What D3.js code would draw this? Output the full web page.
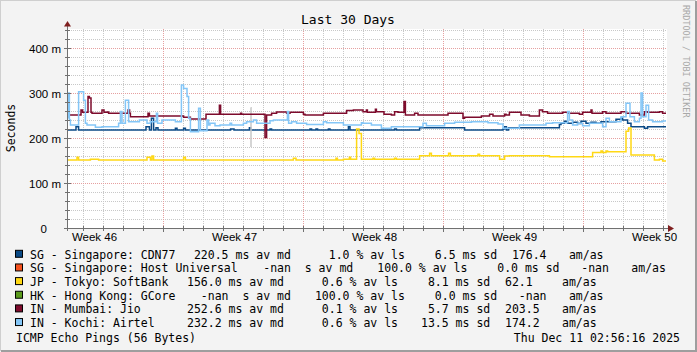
<!DOCTYPE html>
<meta charset="utf-8">
<style>
  body { margin: 0; background: #f3f3f3; }
  svg { display: block; font-family: "DejaVu Sans Mono", monospace; }
  .minor { stroke: #c8c8c8; stroke-dasharray: 1,1; }
  .major { stroke: #e6a0a0; stroke-dasharray: 1,1; }
  .series { fill: none; stroke-width: 1.5px; }
  .txt { font-size: 11.5px; white-space: pre; fill: #000; }
</style>
<svg width="697" height="352"></svg>
<script src="https://d3js.org/d3.v7.min.js"></script>
<script>
  // ---- data (t = days since left edge, v = ms) ----
  var targets = ["SG - Singapore: CDN77", "SG - Singapore: Host Universal", "JP - Tokyo: SoftBank",
    "HK - Hong Kong: GCore", "IN - Mumbai: Jio", "IN - Kochi: Airtel"];
  var colors = ["#0b4a86", "#f4511e", "#ffd814", "#5a9a1c", "#7d0b2c", "#84c6f7"];

  var avMedian = [220.5, NaN, 156.0, NaN, 252.6, 232.2];
  var avLoss = [1.0, 100.0, 0.6, 100.0, 0.1, 0.6];
  var stdDev = [6.5, 0.0, 8.1, 0.0, 5.7, 13.5];
  var amAs = [176.4, NaN, 62.1, NaN, 203.5, 174.2];

  var weekTicks = [1.35, 8.35, 15.35, 22.35, 29.35];
  var weekLabels = ["Week 46", "Week 47", "Week 48", "Week 49", "Week 50"];
  var yTicks = [0, 100, 200, 300, 400];

  var cdn77 = [[0,218],[0.45,225],[0.58,218],[3.95,225],[4.12,218],[4.22,244],[4.33,218],[4.45,223],[4.55,218],
    [5.42,221.5],[5.5,218],[5.83,221.5],[5.92,218],[8.18,220],[8.35,218],[9.12,223],[9.18,218],[10.15,220],
    [10.23,218],[12.15,220],[12.23,218],[12.45,220],[12.53,218],[13.07,220],[13.15,218],[14.07,225],[14.15,218],
    [16.38,220],[16.47,218],[17.63,223],[19.88,218],[21.8,220],[21.88,225],[21.97,218],[22.08,223],[24.62,230],
    [24.7,233],[24.87,237],[25.03,233],[25.28,235],[25.53,232],[25.7,237],[25.95,233],[26.2,235],[26.45,233],
    [26.7,236],[27.45,241.5],[27.7,244],[27.78,240],[28.03,233],[28.2,225],[28.87,221.5],[29.03,225],[29.95,225]];

  var hostUniversal = [[9.18,267],[9.2,180]];

  var softbank = [[0,151],[0.5,157],[0.58,151],[1.17,153],[1.58,151],[4.0,157],[4.17,151],[4.25,160],[4.33,151],
    [5.83,157],[5.92,151],[11.32,155],[11.45,151],[13.45,155],[13.52,151],[13.82,153],[14.12,157],[14.18,153],
    [14.48,220],[14.6,210],[14.72,153],[15.3,155],[15.38,152.6],[16.38,155],[16.47,152.6],[17.63,160.7],
    [18.13,166],[18.22,160.7],[19.08,166],[19.17,160.7],[20.55,163.7],[20.63,160.7],[21.63,152.6],[21.88,160],
    [22.12,160.7],[24.12,158.5],[26.28,168],[26.7,171],[26.78,168],[26.95,171],[27.03,169.6],[27.95,215],
    [28.08,222],[28.2,162.2],[29.37,151.1],[29.62,152.6],[29.78,148.9],[29.95,148.9]];

  var jio = [[0,251],[0.7,262],[0.78,257],[1.05,292],[1.12,289],[1.2,257],[1.25,255],[1.75,262],[1.85,257],
    [2.0,258],[2.08,255],[3.05,262],[3.13,255],[3.17,247],[4.05,255],[4.12,249],[5.83,246],[6.17,242],[6.95,253],
    [7.62,273],[7.68,253],[8.68,255],[8.73,253],[9.9,201],[9.98,251],[10.23,255],[10.48,258],[10.98,255],
    [11.15,257],[11.82,253],[11.9,251],[12.82,255],[13.98,261],[14.32,262],[14.8,258.5],[14.97,262],[15.02,257],
    [15.42,264],[15.47,258.5],[15.85,253],[16.22,251],[16.38,258.5],[16.55,257],[16.85,281],[16.92,251],
    [17.38,255],[17.55,251],[19.05,255],[19.8,244],[19.88,246],[20.72,249],[21.13,253],[21.3,249],[21.88,253],
    [21.95,251],[22.12,257],[22.7,251],[23.12,249],[23.62,262],[23.78,258.5],[24.03,255],[24.78,257],[25.03,255],
    [25.62,253],[25.78,257],[26.2,262],[26.25,255],[26.78,258.5],[26.95,255],[27.7,258.5],[27.95,255],
    [28.62,251],[28.87,258.5],[29.03,257],[29.62,258.5],[29.78,255],[29.95,255]];

  var airtel = [[0,245],[0.05,300],[0.12,240],[0.17,229],[0.58,303],[0.83,284],[0.92,233],[1.0,229],[1.42,224],
    [1.75,225],[2.58,233],[2.67,259],[2.75,233],[2.92,284],[3.08,236],[3.62,240],[4.0,233],[4.17,236],[4.47,255],
    [4.53,233],[4.75,240],[5.42,236],[5.72,318],[5.83,310],[6.0,292],[6.08,244],[6.17,214],[6.58,266],[6.67,216],
    [7.0,240],[7.08,229],[7.15,233],[7.4,227],[7.65,229],[8.15,233],[8.23,229],[8.82,233],[8.98,236],[9.32,240],
    [9.48,233],[10.15,238.5],[10.32,240],[11.02,259],[11.08,233],[11.23,236],[11.48,233],[11.98,230],[12.82,236],
    [12.98,234],[13.82,229],[14.72,234],[14.8,232.6],[15.22,229],[15.72,221.5],[16.22,225],[17.8,233],[17.97,227],
    [18.88,233],[19.38,234.8],[20.22,236],[21.05,234],[21.55,231],[21.8,221.5],[22.62,229],[23.95,232.6],
    [24.28,234],[25.03,259],[25.12,240],[25.28,229],[25.53,233],[25.78,227],[26.12,233],[26.78,225],[26.95,244],
    [27.12,236],[27.7,247],[27.95,277],[28.15,247],[28.37,236],[28.62,244],[28.7,300],[28.78,247],[28.95,273],
    [29.08,240],[29.28,236],[29.78,238],[29.95,238]];

  var seriesData = [cdn77, hostUniversal, softbank, [], jio, airtel];

  // ---- chart ----
  var svg = d3.select("svg"),
    width = +svg.attr("width"),
    height = +svg.attr("height");

  var x = d3.scaleLinear().domain([0, 30]).range([67, 667]);
  var y = d3.scaleLinear().domain([0, 440]).range([228, 30]);

  // frame
  svg.append("rect").attr("width", width).attr("height", height).attr("fill", "#f3f3f3");
  svg.append("path").attr("d", "M0,351V0H696").attr("fill", "none").attr("stroke", "#cfcfcf").attr("stroke-width", 2);
  svg.append("path").attr("d", "M1,351H696V1").attr("fill", "none").attr("stroke", "#9e9e9e").attr("stroke-width", 2);

  svg.append("rect").attr("x", 67).attr("y", 29).attr("width", 600).attr("height", 199).attr("fill", "#fff");

  // grid
  var minorY = d3.range(20, 441, 20).filter(function(d) { return d % 100; });
  var majorY = yTicks.filter(function(d) { return d > 0; });
  var dayLines = d3.range(0.8, 30, 1);
  var grid = svg.append("g");

  grid.selectAll(".gy").data(minorY).enter().append("line")
    .attr("class", "minor")
    .attr("x1", 67).attr("x2", 667)
    .attr("y1", function(d) { return Math.round(y(d)) + 0.5; })
    .attr("y2", function(d) { return Math.round(y(d)) + 0.5; });

  grid.selectAll(".gx").data(dayLines).enter().append("line")
    .attr("class", function(d, i) { return (i - 4) % 7 === 0 ? "major" : "minor"; })
    .attr("x1", function(d) { return Math.round(x(d)) + 0.5; })
    .attr("x2", function(d) { return Math.round(x(d)) + 0.5; })
    .attr("y1", 29).attr("y2", 228);

  grid.selectAll(".my").data(majorY).enter().append("line")
    .attr("class", "major")
    .attr("x1", 67).attr("x2", 667)
    .attr("y1", function(d) { return Math.round(y(d)) + 0.5; })
    .attr("y2", function(d) { return Math.round(y(d)) + 0.5; });

  // series
  var line = d3.line()
    .x(function(d) { return x(d[0]); })
    .y(function(d) { return y(d[1]); })
    .curve(d3.curveStepAfter);

  seriesData.forEach(function(s, i) {
    if (!s.length) return;
    svg.append("path")
      .datum(s)
      .attr("class", "series")
      .attr("stroke", i === 1 ? "#c8c8c8" : colors[i])
      .attr("d", line);
  });

  // axes
  var axisColor = "#707070";
  svg.append("line").attr("x1", 64).attr("x2", 668).attr("y1", 228.5).attr("y2", 228.5).attr("stroke", axisColor);
  svg.append("line").attr("x1", 67.5).attr("x2", 67.5).attr("y1", 231).attr("y2", 25).attr("stroke", axisColor);

  // small ticks on axes
  svg.selectAll(".ty").data(d3.range(0, 441, 20)).enter().append("line")
    .attr("x1", function(d) { return d % 100 ? 65 : 64; })
    .attr("x2", function(d) { return d % 100 ? 70 : 71; })
    .attr("y1", function(d) { return Math.round(y(d)) + 0.5; })
    .attr("y2", function(d) { return Math.round(y(d)) + 0.5; })
    .attr("stroke", axisColor);
  svg.selectAll(".tx").data(dayLines).enter().append("line")
    .attr("x1", function(d) { return Math.round(x(d)) + 0.5; })
    .attr("x2", function(d) { return Math.round(x(d)) + 0.5; })
    .attr("y1", 226)
    .attr("y2", function(d, i) { return (i - 4) % 7 === 0 ? 232 : 231; })
    .attr("stroke", axisColor);

  var arrow = "#7f1f1f";
  svg.append("path").attr("d", "M67.5,21L64,26.5H71Z").attr("fill", arrow);
  svg.append("path").attr("d", "M674,228.5L668,225V232Z").attr("fill", arrow);

  var yAxis = svg.append("g")
    .attr("transform", "translate(67,0)")
    .call(d3.axisLeft(y).tickValues(yTicks).tickSize(0).tickPadding(6)
      .tickFormat(function(d) { return d === 0 ? "0" : d + " m"; }));
  yAxis.select(".domain").remove();
  yAxis.selectAll("text").attr("class", "txt").attr("font-family", null).attr("font-size", null)
    .attr("dy", "0.36em")
    .attr("dx", function(d) { return d === 0 ? -14 : 0; });

  var xAxis = svg.append("g")
    .attr("transform", "translate(0,228)")
    .call(d3.axisBottom(x).tickValues(weekTicks).tickSize(0).tickPadding(5)
      .tickFormat(function(d, i) { return weekLabels[i]; }));
  xAxis.select(".domain").remove();
  xAxis.selectAll("text").attr("class", "txt").attr("font-family", null).attr("font-size", null);

  // titles
  svg.append("text").attr("x", 348).attr("y", 24).attr("text-anchor", "middle")
    .style("font-size", "13px").text("Last 30 Days");
  svg.append("text").attr("class", "txt").attr("transform", "translate(15,128) rotate(-90)")
    .attr("text-anchor", "middle").text("Seconds");
  svg.append("text").attr("transform", "translate(683,5) rotate(90)")
    .style("font-size", "8.5px").attr("fill", "#a8a8a8").text("RRDTOOL / TOBI OETIKER");

  // legend
  function f1(v) { return isNaN(v) ? "-nan" : v.toFixed(1); }
  function pad(s, n) { while (s.length < n) s = " " + s; return s; }
  var cw = 6.93;
  var cols = [187, 308, 421, 505, 562];
  var legend = svg.append("g");

  targets.forEach(function(name, i) {
    var by = 258.8 + i * 13.65;
    var shift = Math.max(0, name.length - 20) * cw;
    legend.append("rect").attr("x", 15.5).attr("y", by - 8.5).attr("width", 7).attr("height", 7)
      .attr("fill", colors[i]).attr("stroke", "#000");
    var parts = [
      pad(f1(avMedian[i]), 5) + " " + (isNaN(avMedian[i]) ? " " : "m") + "s av md",
      pad(f1(avLoss[i]), 5) + " % av ls",
      pad(f1(stdDev[i]), 4) + " ms sd",
      isNaN(amAs[i]) ? " -nan" : f1(amAs[i]),
      "am/as"
    ];
    legend.append("text").attr("class", "txt").attr("x", 30).attr("y", by).text(name);
    parts.forEach(function(p, j) {
      legend.append("text").attr("class", "txt").attr("x", cols[j] + shift).attr("y", by).text(p);
    });
  });

  legend.append("text").attr("class", "txt").attr("x", 16).attr("y", 341.5).text("ICMP Echo Pings (56 Bytes)");
  legend.append("text").attr("class", "txt").attr("x", 680).attr("y", 341.5).attr("text-anchor", "end")
    .text("Thu Dec 11 02:56:16 2025");
</script>
